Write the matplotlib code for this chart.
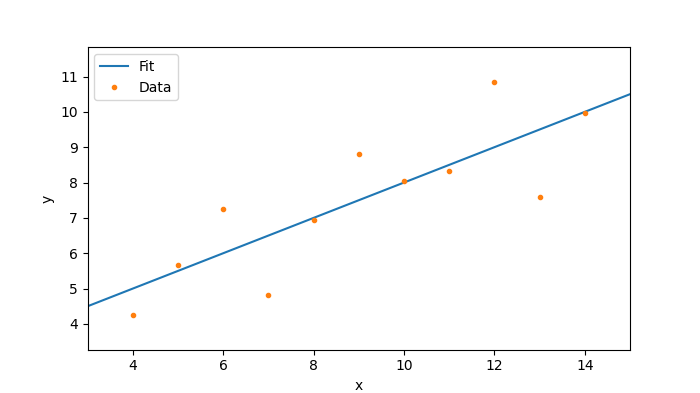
import numpy as np
import matplotlib
matplotlib.use("Agg")
import matplotlib.pyplot as plt

# Data points
x_data = [4, 5, 6, 7, 8, 9, 10, 11, 12, 13, 14]
y_data = [4.26, 5.68, 7.24, 4.82, 6.95, 8.81, 8.04, 8.33, 10.84, 7.58, 9.96]

# Fitted line
intercept = 3.0
slope = 0.5
x_fit = [3, 15]

fig, ax = plt.subplots(figsize=(7, 3.93), dpi=100)
ax.plot(x_fit, intercept + slope * np.array(x_fit), color='C0', label='Fit')
ax.plot(x_data, y_data, '.', color='C1', label='Data')
ax.set_xlim(3, 15)
ax.set_ylim(3.27, 11.83)
ax.set_xlabel('x')
ax.set_ylabel('y')
ax.legend(loc='upper left')

plt.savefig('out.png', dpi=100)
